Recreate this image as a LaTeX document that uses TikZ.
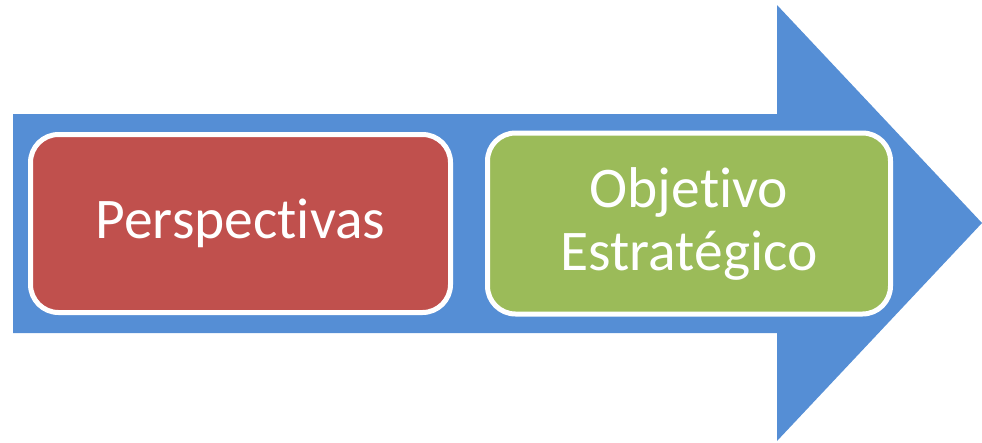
\documentclass[tikz,border=0pt]{standalone}
\usepackage{fontspec}
\setmainfont{Carlito}[Ligatures=CommonOff]
\usetikzlibrary{positioning}
\definecolor{arrowblue}{HTML}{558ED5}
\definecolor{persred}{HTML}{C0504D}
\definecolor{objgreen}{HTML}{9BBB59}

\begin{document}
\begin{tikzpicture}[x=1pt,y=-1pt,
	box/.style={draw=white,line width=5pt,rounded corners=28pt,text=white,align=center,
		inner sep=0pt,font=\fontsize{57.5}{63}\selectfont}]
			\useasboundingbox (0,0) rectangle (982,442);
			% big arrow
			\fill[arrowblue] (13,114) -- (777,114) -- (777,5) -- (982,223)
			-- (777,441) -- (777,333) -- (13,333) -- cycle;
			\node[box, fill=persred, minimum width=420pt, minimum height=178pt] (persp) at (240.5,223.5) {Perspectivas};
			\node[box, fill=objgreen, minimum width=403pt, minimum height=181pt] (obj) [right=32pt of persp] {Objetivo\\Estratégico};
		\end{tikzpicture}
\end{document}
